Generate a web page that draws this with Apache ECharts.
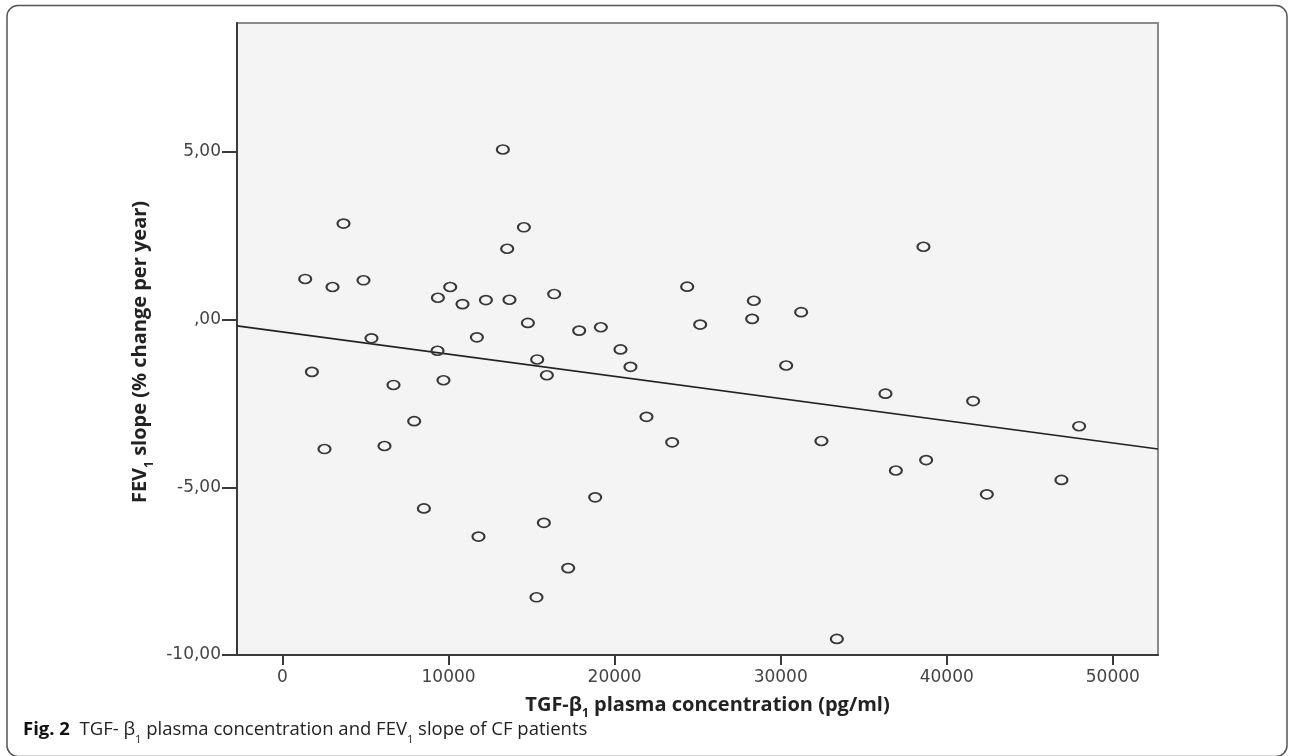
<!DOCTYPE html>
<html>
<head>
<meta charset="utf-8">
<script src="https://cdn.jsdelivr.net/npm/echarts@6/dist/echarts.min.js"></script>
<style>
html,body{margin:0;padding:0;background:#fff;}
#c{width:1290px;height:756px;}
</style>
</head>
<body>
<div id="c"></div>
<script>
// TGF-beta1 plasma concentration (pg/ml)
const tgfValues = [1367, 1770, 2529, 3011, 3673, 4877, 5359, 6142, 6684, 7930,
  8514, 9333, 9357, 9694, 10098, 10839, 11705, 11802, 12247, 13270,
  13530, 13668, 14535, 14776, 15294, 15336, 15739, 15920, 16360, 17202,
  17865, 18829, 19171, 20352, 20954, 21918, 23465, 24368, 25151, 28282,
  28383, 30329, 31232, 32454, 33382, 36308, 36934, 38596, 38758, 41588,
  42413, 46906, 47970];
// FEV1 slope (% change per year)
const fevSlopes = [1.21, -1.56, -3.86, 0.97, 2.86, 1.17, -0.56, -3.77, -1.95, -3.03,
  -5.63, -0.93, 0.65, -1.81, 0.97, 0.46, -0.53, -6.47, 0.58, 5.07,
  2.11, 0.59, 2.75, -0.10, -8.28, -1.19, -6.06, -1.66, 0.76, -7.41,
  -0.33, -5.30, -0.23, -0.89, -1.41, -2.90, -3.66, 0.98, -0.15, 0.02,
  0.56, -1.37, 0.22, -3.62, -9.52, -2.21, -4.50, 2.17, -4.19, -2.43,
  -5.21, -4.78, -3.18];
// fitted regression line end points
const fitLineX = [-2740, 52720];
const fitLineY = [-0.19, -3.86];
// axis ticks
const xTickValues = [0, 10000, 20000, 30000, 40000, 50000];
const xTickLabels = ['0', '10000', '20000', '30000', '40000', '50000'];
const yTickValues = [-10, -5, 0, 5];
const yTickLabels = ['-10,00', '-5,00', ',00', '5,00'];

const points = tgfValues.map((x, i) => [x, fevSlopes[i]]);
const fitLine = fitLineX.map((x, i) => [x, fitLineY[i]]);

const chart = echarts.init(document.getElementById('c'), null, {renderer: 'canvas'});
const subStyle = {fontSize: 12, verticalAlign: 'bottom', lineHeight: 12, padding: [0, 0, -4, 0]};
const option = {
  backgroundColor: '#ffffff',
  animation: false,
  grid: {
    left: 237, top: 23, right: 132, bottom: 101,
    show: true, backgroundColor: '#f4f4f4', borderColor: '#8a8a8a', borderWidth: 2
  },
  xAxis: {
    type: 'value', min: fitLineX[0], max: fitLineX[1],
    splitLine: {show: false},
    axisLine: {show: true, onZero: false, lineStyle: {color: '#3a3a3a', width: 2}},
    axisTick: {show: true, customValues: xTickValues, length: 10, lineStyle: {color: '#3a3a3a', width: 2}},
    axisLabel: {
      customValues: xTickValues, margin: 14,
      formatter: v => xTickLabels[xTickValues.indexOf(v)],
      fontFamily: 'DejaVu Sans', fontSize: 17, color: '#444'
    },
    name: 'TGF-β{s|1} plasma concentration (pg/ml)',
    nameLocation: 'middle', nameGap: 39,
    nameTextStyle: {
      fontFamily: 'Open Sans', fontWeight: 'bold', fontSize: 20, color: '#222',
      padding: [0, 0, 0, 20], lineHeight: 22,
      rich: {s: Object.assign({fontFamily: 'Open Sans', fontWeight: 'bold', color: '#222'}, subStyle)}
    }
  },
  yAxis: {
    type: 'value', min: -10, max: 8.84,
    splitLine: {show: false},
    axisLine: {show: true, onZero: false, lineStyle: {color: '#3a3a3a', width: 2}},
    axisTick: {show: true, customValues: yTickValues, length: 15, lineStyle: {color: '#3a3a3a', width: 2}},
    axisLabel: {
      customValues: yTickValues, margin: 16,
      formatter: v => yTickLabels[yTickValues.indexOf(v)],
      fontFamily: 'DejaVu Sans', fontSize: 17, color: '#444'
    },
    name: 'FEV{s|1} slope (% change per year)',
    nameLocation: 'middle', nameGap: 76,
    nameTextStyle: {
      fontFamily: 'Open Sans', fontWeight: 'bold', fontSize: 20, color: '#222',
      padding: [0, 26, 0, 0], lineHeight: 22,
      rich: {s: Object.assign({fontFamily: 'Open Sans', fontWeight: 'bold', color: '#222'}, subStyle)}
    }
  },
  series: [
    {
      type: 'line', data: fitLine, symbol: 'none', silent: true,
      lineStyle: {color: '#222', width: 1.7}, z: 2
    },
    {
      type: 'scatter', data: points, symbol: 'circle', symbolSize: [12, 9],
      itemStyle: {color: 'rgba(0,0,0,0)', borderColor: '#383838', borderWidth: 1.9, opacity: 1},
      z: 3
    }
  ],
  graphic: [
    {
      type: 'rect', silent: true, z: -10,
      shape: {x: 7, y: 5.5, width: 1280, height: 751, r: 11},
      style: {fill: 'none', stroke: '#555', lineWidth: 1.5}
    },
    {
      type: 'text', left: 23, top: 719, silent: true,
      style: {
        text: '{b|Fig. 2}  TGF- β{s|1} plasma concentration and FEV{s|1} slope of CF patients',
        fontFamily: 'Open Sans', fontSize: 18.5, fill: '#222', lineHeight: 22,
        rich: {
          b: {fontFamily: 'Open Sans', fontWeight: 'bold', fontSize: 18.5, fill: '#111', lineHeight: 22},
          s: {fontFamily: 'Open Sans', fontSize: 11, lineHeight: 11, verticalAlign: 'bottom', padding: [0, 0, -4, 0]}
        }
      }
    }
  ]
};
chart.setOption(option);
</script>
</body>
</html>
